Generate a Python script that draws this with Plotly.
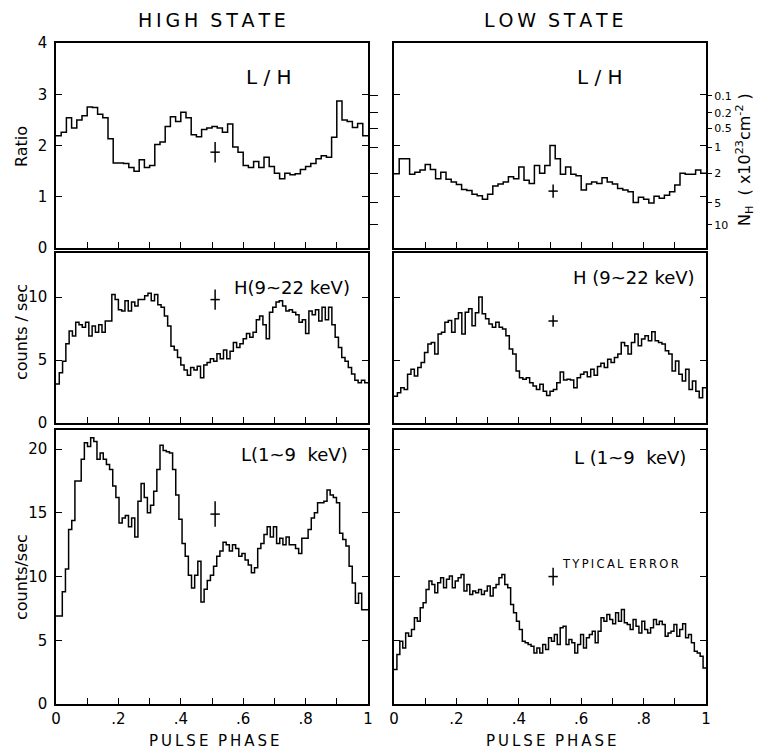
import numpy as np
import plotly.graph_objects as go

# ---------------- data ----------------
ratio_high = [2.19, 2.26, 2.54, 2.34, 2.5, 2.58, 2.75, 2.74, 2.61, 2.54,
              2.13, 1.66, 1.66, 1.65, 1.57, 1.5, 1.72, 1.57, 1.61, 2.02,
              2.07, 2.37, 2.56, 2.47, 2.65, 2.54, 2.21, 2.17, 2.31, 2.34,
              2.37, 2.34, 2.26, 2.42, 1.97, 1.87, 1.61, 1.57, 1.69, 1.57,
              1.77, 1.59, 1.46, 1.35, 1.46, 1.43, 1.45, 1.53, 1.59, 1.65,
              1.74, 1.8, 1.77, 2.16, 2.87, 2.5, 2.47, 2.35, 2.43, 2.19]
ratio_low = [1.45, 1.74, 1.74, 1.44, 1.48, 1.52, 1.63, 1.53, 1.35, 1.48,
             1.34, 1.29, 1.24, 1.14, 1.12, 1.05, 1.02, 0.95, 1.05, 1.21,
             1.25, 1.29, 1.39, 1.35, 1.58, 1.32, 1.26, 1.61, 1.46, 1.61,
             2.0, 1.74, 1.44, 1.58, 1.44, 1.41, 1.13, 1.25, 1.29, 1.26,
             1.37, 1.29, 1.25, 1.16, 1.13, 1.1, 0.89, 0.99, 0.95, 0.88,
             1.01, 0.97, 1.03, 1.1, 1.23, 1.46, 1.44, 1.44, 1.52, 1.46]
hard_high = [3.1, 4.0, 4.9, 6.3, 7.3, 6.9, 8.0, 7.8, 7.6, 8.0,
             6.9, 7.7, 7.2, 7.8, 7.2, 8.1, 8.1, 10.2, 9.8, 9.0,
             8.9, 9.7, 8.9, 9.6, 9.3, 9.8, 9.8, 10.1, 10.3, 9.7,
             10.2, 9.4, 9.2, 8.5, 7.7, 6.1, 5.8, 5.2, 4.6, 4.2,
             3.8, 4.4, 4.2, 4.5, 3.6, 4.6, 4.8, 5.1, 4.9, 5.5,
             5.1, 5.8, 5.1, 5.7, 6.4, 6.0, 6.3, 6.7, 7.1, 6.8,
             7.2, 8.2, 8.5, 7.8, 6.7, 8.8, 9.2, 9.6, 9.7, 9.3,
             8.9, 9.0, 8.8, 8.6, 8.0, 8.2, 7.1, 8.9, 8.6, 9.0,
             8.1, 9.2, 8.2, 9.2, 7.8, 6.8, 6.0, 5.2, 4.9, 4.4,
             3.9, 3.4, 3.2, 3.4, 3.2]
hard_low = [2.13, 2.4, 2.8, 2.67, 3.87, 4.27, 3.73, 4.4, 4.8, 5.6,
            6.27, 6.4, 5.47, 7.07, 7.2, 8.0, 8.13, 7.2, 8.27, 8.75,
            7.07, 8.8, 9.07, 7.73, 8.75, 10.0, 8.67, 8.27, 7.87, 7.6,
            8.0, 7.6, 7.47, 6.93, 5.87, 5.47, 4.13, 3.6, 3.47, 3.6,
            3.2, 2.93, 2.67, 3.07, 2.53, 2.19, 2.53, 2.67, 3.2, 4.05,
            3.41, 3.47, 3.41, 2.8, 3.6, 3.87, 4.05, 3.68, 4.27, 3.79,
            4.48, 4.75, 4.4, 5.07, 4.8, 5.2, 5.47, 6.4, 6.13, 5.47,
            6.4, 7.07, 6.13, 6.67, 6.93, 6.53, 7.25, 6.53, 6.4, 6.27,
            5.73, 5.47, 4.13, 4.93, 3.87, 3.33, 4.27, 2.67, 3.33, 2.53,
            2.0, 2.8]
soft_high = [6.9, 6.9, 8.8, 10.6, 13.7, 14.4, 17.5, 17.5, 19.2, 20.5,
             20.2, 20.9, 20.6, 19.2, 19.7, 19.2, 18.8, 18.4, 17.1, 16.2,
             14.2, 14.6, 14.8, 13.9, 14.6, 13.1, 15.9, 17.3, 16.2, 15.0,
             15.6, 16.7, 18.4, 20.3, 19.9, 19.8, 19.7, 18.4, 16.4, 14.5,
             12.6, 11.6, 10.1, 9.1, 10.1, 11.2, 8.0, 9.0, 9.7, 10.1,
             10.8, 11.6, 12.0, 12.7, 12.5, 12.0, 12.5, 12.2, 11.6, 11.8,
             11.3, 10.9, 10.3, 10.7, 12.2, 12.6, 13.3, 13.9, 13.1, 13.9,
             12.6, 13.0, 12.5, 13.1, 12.5, 12.5, 12.2, 11.8, 13.0, 13.0,
             13.7, 14.6, 15.0, 15.8, 15.8, 15.9, 16.8, 16.4, 16.2, 15.8,
             13.4, 12.9, 12.4, 10.8, 9.5, 7.9, 8.7, 7.4, 7.4]
soft_low = [2.7, 3.88, 4.93, 4.4, 5.58, 5.32, 5.85, 6.76, 6.5, 7.55,
            7.94, 8.99, 9.65, 9.38, 8.73, 9.52, 9.91, 9.12, 9.78, 10.04,
            9.12, 9.65, 9.91, 10.17, 8.86, 9.38, 8.6, 8.86, 8.73, 8.99,
            8.6, 8.86, 9.25, 8.47, 9.12, 9.38, 9.91, 10.17, 9.38, 9.12,
            7.81, 7.16, 6.5, 5.85, 4.93, 4.8, 4.67, 4.53, 4.01, 4.4,
            4.01, 4.67, 4.27, 5.19, 4.93, 5.45, 4.67, 5.98, 6.11, 4.67,
            5.06, 4.8, 4.01, 4.67, 5.45, 4.4, 5.19, 5.45, 5.71, 4.8,
            5.71, 6.76, 6.5, 7.02, 6.63, 6.29, 7.16, 6.5, 7.42, 6.37,
            6.24, 5.85, 6.63, 6.11, 5.58, 6.5, 5.85, 5.58, 5.98, 6.63,
            6.24, 6.5, 6.24, 5.32, 5.58, 5.71, 6.24, 5.32, 5.85, 6.29,
            5.19, 5.45, 4.8, 4.14, 4.01, 3.75, 2.83]

# typical error crosses: [top-left, top-right, mid-left, mid-right, bot-left, bot-right]
err_phase = [0.51, 0.51, 0.51, 0.51, 0.51, 0.51]
err_value = [1.87, 1.11, 9.8, 8.1, 14.9, 10.0]
err_dy = [0.2, 0.13, 0.8, 0.45, 1.0, 0.7]
err_dx = [0.015, 0.015, 0.015, 0.015, 0.015, 0.015]

# N_H scale on the ratio axis
nh_labels = ["0.1", "0.2", "0.5", "1", "2", "5", "10"]
nh_ratio_pos = [2.97, 2.64, 2.34, 1.97, 1.46, 0.88, 0.45]

x_tick_vals = [0, 0.1, 0.2, 0.3, 0.4, 0.5, 0.6, 0.7, 0.8, 0.9, 1.0]
x_tick_text = ["0", "", ".2", "", ".4", "", ".6", "", ".8", "", "1"]

# ---------------- figure ----------------
FONT = "DejaVu Sans"
fig = go.Figure()

panels = [
    (ratio_high, "x", "y"), (ratio_low, "x2", "y2"),
    (hard_high, "x3", "y3"), (hard_low, "x4", "y4"),
    (soft_high, "x5", "y5"), (soft_low, "x6", "y6"),
]
for i, (vals, xa, ya) in enumerate(panels):
    n = len(vals)
    edges = np.linspace(0, 1, n + 1)
    yv = list(vals) + [vals[-1]]
    fig.add_trace(go.Scatter(x=edges, y=yv, mode="lines", line_shape="hv",
                             line=dict(color="black", width=1.5),
                             xaxis=xa, yaxis=ya, showlegend=False, hoverinfo="skip"))
    fig.add_trace(go.Scatter(x=[err_phase[i]], y=[err_value[i]], mode="markers",
                             marker=dict(size=1, color="black"),
                             error_y=dict(type="data", array=[err_dy[i]], width=0,
                                          color="black", thickness=1.5),
                             error_x=dict(type="data", array=[err_dx[i]], width=0,
                                          color="black", thickness=1.5),
                             xaxis=xa, yaxis=ya, showlegend=False, hoverinfo="skip"))

# invisible traces to carry the N_H axes
fig.add_trace(go.Scatter(x=[0.5], y=[2], mode="markers", marker=dict(opacity=0),
                         xaxis="x", yaxis="y7", showlegend=False, hoverinfo="skip"))
fig.add_trace(go.Scatter(x=[0.5], y=[2], mode="markers", marker=dict(opacity=0),
                         xaxis="x2", yaxis="y8", showlegend=False, hoverinfo="skip"))

OFF = 8  # page body margin
W, H = 764 - OFF, 752 - OFF
# plot-area box in reference-picture pixels
L_PX, R_PX, T_PX, B_PX = 56, 706, 43, 704
ml, mt = L_PX - OFF, T_PX - OFF
mr, mb = W - (R_PX - OFF), H - (B_PX - OFF)
pw, ph = R_PX - L_PX, B_PX - T_PX

def xd(a, b):
    return [(a - L_PX) / pw, (b - L_PX) / pw]

def yd(top, bot):
    return [(B_PX - bot) / ph, (B_PX - top) / ph]

left_dom = xd(56, 368)
right_dom = xd(394, 706)
row_dom = [yd(43, 248), yd(253, 423), yd(430, 704)]
row_range = [[0, 4], [0, 13.5], [0, 21.5]]
row_ticks = [[0, 1, 2, 3, 4], [0, 5, 10], [0, 5, 10, 15, 20]]

axis_common = dict(showgrid=False, zeroline=False, showline=True, linecolor="black",
                   linewidth=1.5, tickcolor="black", tickwidth=1.3, ticklen=6,
                   ticks="inside", automargin=False,
                   tickfont=dict(family=FONT, size=15, color="black"))

layout = dict(width=W, height=H, paper_bgcolor="white", plot_bgcolor="white",
              margin=dict(l=ml, r=mr, t=mt, b=mb, autoexpand=False), showlegend=False)

for k in range(6):
    row, col = k // 2, k % 2
    sfx = "" if k == 0 else str(k + 1)
    xname, yname = "xaxis" + sfx, "yaxis" + sfx
    anchor_x = "x" + sfx
    anchor_y = "y" + sfx
    bottom = row == 2
    layout[xname] = dict(axis_common, domain=left_dom if col == 0 else right_dom,
                         range=[0, 1], anchor=anchor_y, mirror=True,
                         tickvals=x_tick_vals,
                         ticktext=x_tick_text if bottom else [""] * len(x_tick_vals))
    layout[yname] = dict(axis_common, domain=row_dom[row], range=row_range[row],
                         anchor=anchor_x, mirror="ticks", tickvals=row_ticks[row],
                         showticklabels=(col == 0), ticklabelstandoff=4)

layout["yaxis7"] = dict(overlaying="y", side="right", anchor="x", range=[0, 4],
                        showgrid=False, zeroline=False, showline=False, automargin=False,
                        tickvals=nh_ratio_pos, ticktext=[""] * len(nh_ratio_pos),
                        ticks="outside", ticklen=9, tickwidth=1.3, tickcolor="black")
layout["yaxis8"] = dict(overlaying="y2", side="right", anchor="x2", range=[0, 4],
                        showgrid=False, zeroline=False, showline=False, automargin=False,
                        tickvals=nh_ratio_pos, ticktext=nh_labels,
                        ticks="outside", ticklen=5, tickwidth=1.3, tickcolor="black",
                        tickfont=dict(family=FONT, size=11, color="black"))

fig.update_layout(**layout)

def px_x(p):
    return (p - L_PX) / pw

def px_y(p):
    return (B_PX - p) / ph

ts = "\u2009"
def spaced(s):
    return ts.join(list(s))

ann = []
txt = dict(family=FONT, color="black")
C = dict(xanchor="center", yanchor="middle", showarrow=False)
ann.append(dict(C, text=spaced("HIGH") + "  " + spaced("STATE"), x=px_x(212), y=px_y(20),
                xref="paper", yref="paper", font=dict(txt, size=19)))
ann.append(dict(C, text=spaced("LOW") + "  " + spaced("STATE"), x=px_x(553), y=px_y(20),
                xref="paper", yref="paper", font=dict(txt, size=19)))
ann.append(dict(C, text=spaced("PULSE") + "  " + spaced("PHASE"), x=px_x(214), y=px_y(741),
                xref="paper", yref="paper", font=dict(txt, size=15)))
ann.append(dict(C, text=spaced("PULSE") + "  " + spaced("PHASE"), x=px_x(551), y=px_y(741),
                xref="paper", yref="paper", font=dict(txt, size=15)))
ann.append(dict(C, text="Ratio", x=px_x(21), y=px_y(147), xref="paper", yref="paper",
                textangle=-90, font=dict(txt, size=16)))
ann.append(dict(C, text="counts / sec", x=px_x(21), y=px_y(332), xref="paper", yref="paper",
                textangle=-90, font=dict(txt, size=16)))
ann.append(dict(C, text="counts/sec", x=px_x(21), y=px_y(577), xref="paper", yref="paper",
                textangle=-90, font=dict(txt, size=16)))
ann.append(dict(C, text="N<sub>H</sub>  ( x10<sup>23</sup>cm<sup>-2</sup> )", x=px_x(745),
                y=px_y(160), xref="paper", yref="paper", textangle=-90,
                font=dict(txt, size=16)))

labels = [
    ("L / H", "x", "y", 0.683, 0.834, 20),
    ("L / H", "x2", "y2", 0.66, 0.834, 20),
    ("H(9~22 keV)", "x3", "y3", 0.756, 0.80, 18),
    ("H (9~22 keV)", "x4", "y4", 0.77, 0.853, 18),
    ("L(1~9  keV)", "x5", "y5", 0.763, 0.909, 18),
    ("L (1~9  keV)", "x6", "y6", 0.756, 0.90, 18),
]
for t, xa, ya, fx, fy, sz in labels:
    ann.append(dict(C, text=t, x=fx, y=fy, xref=xa + " domain", yref=ya + " domain",
                    font=dict(txt, size=sz)))
ann.append(dict(text=spaced("TYPICAL") + "\u2002" + spaced("ERROR"), x=0.532, y=0.511,
                xref="x6 domain", yref="y6 domain", xanchor="left", yanchor="middle",
                showarrow=False, font=dict(txt, size=11.5)))

fig.update_layout(annotations=ann)
fig.write_html("out.html")
